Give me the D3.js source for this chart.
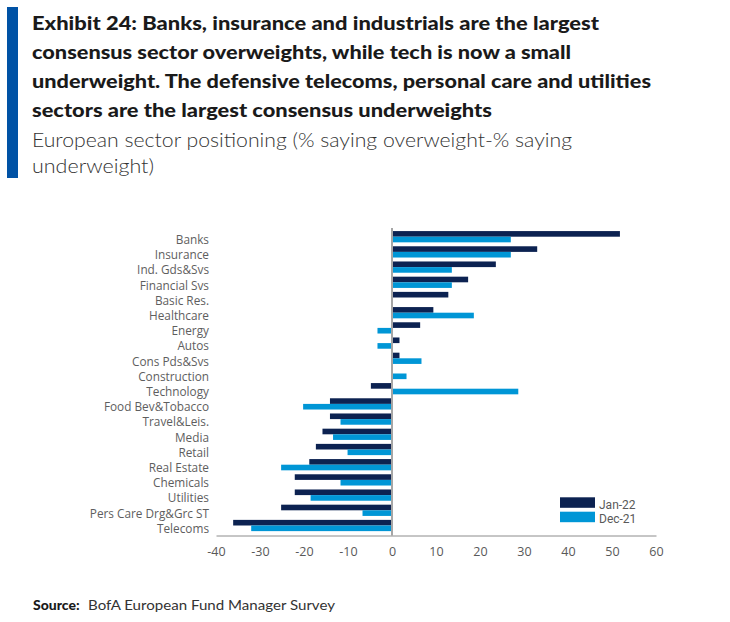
<!DOCTYPE html>
<html>
<head>
<meta charset="utf-8">
<script src="https://cdn.jsdelivr.net/npm/d3@7"></script>
<style>
  html, body { margin: 0; padding: 0; background: #fff; }
  svg { display: block; }
</style>
</head>
<body>
<script>
const categories = ["Banks","Insurance","Ind. Gds&Svs","Financial Svs","Basic Res.","Healthcare","Energy","Autos","Cons Pds&Svs","Construction","Technology","Food Bev&Tobacco","Travel&Leis.","Media","Retail","Real Estate","Chemicals","Utilities","Pers Care Drg&Grc ST","Telecoms"];
const jan22 = [51.8, 33.0, 23.6, 17.3, 12.8, 9.4, 6.4, 1.7, 1.7, 0, -4.8, -14.1, -14.1, -15.8, -17.3, -18.8, -22.1, -22.1, -25.2, -36.1];
const dec21 = [27.0, 27.0, 13.6, 13.6, 0, 18.6, -3.3, -3.3, 6.7, 3.3, 28.7, -20.2, -11.7, -13.4, -10.1, -25.2, -11.7, -18.5, -6.7, -32.0];
const seriesNames = ["Jan-22", "Dec-21"];
const xTicks = [-40, -30, -20, -10, 0, 10, 20, 30, 40, 50, 60];

const titleLines = [
  "Exhibit 24: Banks, insurance and industrials are the largest",
  "consensus sector overweights, while tech is now a small",
  "underweight. The defensive telecoms, personal care and utilities",
  "sectors are the largest consensus underweights"
];
const subtitleLines = [
  "European sector positioning (% saying overweight-% saying",
  "underweight)"
];

const W = 730, H = 622;
const colors = { "Jan-22": "#0c2251", "Dec-21": "#0096d6" };

const svg = d3.select("body").append("svg").attr("width", W).attr("height", H);

// header
svg.append("rect").attr("x", 7).attr("y", 7).attr("width", 11).attr("height", 171).attr("fill", "#0052a5");

const titleWidths = [567, 539, 619, 460];
titleLines.forEach((t, i) => {
  svg.append("text")
    .attr("x", 32).attr("y", 29.5 + i * 29)
    .attr("font-family", "Lato, 'Open Sans', sans-serif")
    .attr("font-weight", 900)
    .attr("font-size", 18)
    .attr("fill", "#1a1a1a")
    .attr("textLength", titleWidths[i])
    .attr("lengthAdjust", "spacingAndGlyphs")
    .text(t);
});
const subWidths = [540, 122];
subtitleLines.forEach((t, i) => {
  svg.append("text")
    .attr("x", 32).attr("y", 146.5 + i * 26.7)
    .attr("font-family", "Lato, 'Open Sans', sans-serif")
    .attr("font-weight", 300)
    .attr("font-size", 19.5)
    .attr("fill", "#333")
    .attr("textLength", subWidths[i])
    .attr("lengthAdjust", "spacingAndGlyphs")
    .text(t);
});

// scales
const x = d3.scaleLinear().domain([-40, 60]).range([216, 656]);
const y = d3.scaleBand().domain(categories).range([229.1, 533.1]).paddingInner(0.26).paddingOuter(0.13);
const ySub = d3.scaleBand().domain(seriesNames).range([0, y.bandwidth()]);

const rows = categories.map((c, i) => ({ cat: c, vals: [
  { s: "Jan-22", v: jan22[i] }, { s: "Dec-21", v: dec21[i] }
]}));

const g = svg.append("g");
const rowG = g.selectAll("g.row").data(rows).join("g")
  .attr("class", "row")
  .attr("transform", d => `translate(0,${y(d.cat)})`);
rowG.selectAll("rect").data(d => d.vals.filter(e => e.v !== 0)).join("rect")
  .attr("x", e => x(Math.min(0, e.v)))
  .attr("width", e => Math.abs(x(e.v) - x(0)))
  .attr("y", e => ySub(e.s))
  .attr("height", ySub.bandwidth())
  .attr("fill", e => colors[e.s]);

// category labels
g.selectAll("text.cat").data(categories).join("text")
  .attr("class", "cat")
  .attr("x", 209)
  .attr("y", c => y(c) + y.bandwidth() / 2 + 7.3)
  .attr("text-anchor", "end")
  .attr("font-family", "'Open Sans', sans-serif")
  .attr("font-size", 11.8)
  .attr("fill", "#5e5e5e")
  .text(c => c);

// zero line
g.append("line")
  .attr("x1", x(0)).attr("x2", x(0))
  .attr("y1", 228).attr("y2", 535.5)
  .attr("stroke", "#a6a6a6").attr("stroke-width", 2);

// x axis
const axisG = svg.append("g").attr("transform", "translate(0,535.5)")
  .call(d3.axisBottom(x).tickValues(xTicks).tickFormat(d => String(d)).tickSize(0).tickSizeOuter(0).tickPadding(12));
axisG.select(".domain").attr("stroke", "#8c8c8c");
axisG.selectAll("text")
  .attr("font-family", "'Open Sans', sans-serif")
  .attr("font-size", 12.5)
  .attr("fill", "#595959");

// legend
const leg = svg.append("g");
seriesNames.forEach((s, i) => {
  leg.append("rect").attr("x", 560).attr("y", 497.3 + i * 14.4).attr("width", 35).attr("height", 10.5).attr("fill", colors[s]);
  leg.append("text").attr("x", 599).attr("y", 507.3 + i * 14.4 + 1.5)
    .attr("font-family", "Roboto, sans-serif")
    .attr("font-size", 12).attr("fill", "#595959").text(s);
});

// source
const src = svg.append("text").attr("x", 33).attr("y", 610)
  .attr("font-family", "Lato, 'Open Sans', sans-serif").attr("font-size", 14).attr("fill", "#333");
src.append("tspan").attr("font-weight", 900).attr("fill", "#1a1a1a").text("Source:");
src.append("tspan").attr("x", 88).attr("textLength", 247).attr("lengthAdjust", "spacingAndGlyphs").text("BofA European Fund Manager Survey");
</script>
</body>
</html>
